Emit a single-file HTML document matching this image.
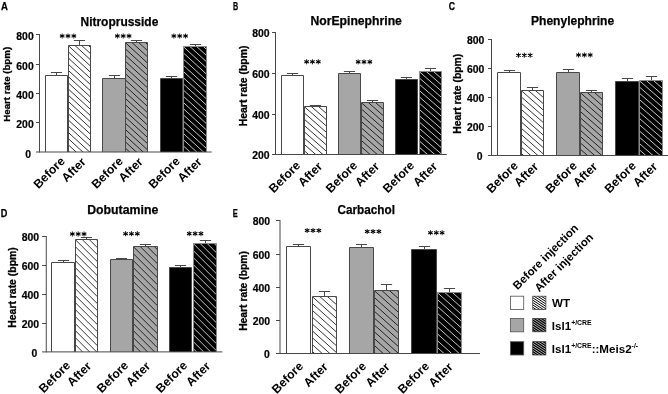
<!DOCTYPE html><html><head><meta charset="utf-8"><title>Figure</title><style>html,body{margin:0;padding:0;background:#fff;}svg{display:block;will-change:transform;}</style></head><body><svg width="668" height="394" viewBox="0 0 668 394" font-family='"Liberation Sans", sans-serif' fill="#000">
<rect width="668" height="394" fill="#fff"/>
<line x1="39.5" y1="34.0" x2="39.5" y2="152.5" stroke="#484848" stroke-width="1"/>
<text x="31.0" y="157.8" font-size="10.3" font-weight="bold" text-anchor="end" textLength="5.8" lengthAdjust="spacingAndGlyphs" stroke="#000" stroke-width="0.2">0</text>
<line x1="36.0" y1="122.5" x2="39.5" y2="122.5" stroke="#484848" stroke-width="1"/>
<text x="33.7" y="127.8" font-size="10.3" font-weight="bold" text-anchor="end" textLength="17.4" lengthAdjust="spacingAndGlyphs" stroke="#000" stroke-width="0.2">200</text>
<line x1="36.0" y1="93.5" x2="39.5" y2="93.5" stroke="#484848" stroke-width="1"/>
<text x="33.7" y="98.8" font-size="10.3" font-weight="bold" text-anchor="end" textLength="17.4" lengthAdjust="spacingAndGlyphs" stroke="#000" stroke-width="0.2">400</text>
<line x1="36.0" y1="64.5" x2="39.5" y2="64.5" stroke="#484848" stroke-width="1"/>
<text x="33.7" y="69.8" font-size="10.3" font-weight="bold" text-anchor="end" textLength="17.4" lengthAdjust="spacingAndGlyphs" stroke="#000" stroke-width="0.2">600</text>
<line x1="36.0" y1="34.5" x2="39.5" y2="34.5" stroke="#484848" stroke-width="1"/>
<text x="33.7" y="39.8" font-size="10.3" font-weight="bold" text-anchor="end" textLength="17.4" lengthAdjust="spacingAndGlyphs" stroke="#000" stroke-width="0.2">800</text>
<text transform="translate(10.0,84.3) rotate(-90)" font-size="9.91" font-weight="bold" stroke="#000" stroke-width="0.3" text-anchor="middle" textLength="74.8" lengthAdjust="spacingAndGlyphs">Heart rate (bpm)</text>
<text x="80.5" y="25.5" font-size="12.3" font-weight="bold" text-anchor="start" textLength="77.8" lengthAdjust="spacingAndGlyphs" stroke="#000" stroke-width="0.25">Nitroprusside</text>
<text x="1.0" y="9.6" font-size="10" font-weight="bold" text-anchor="start" textLength="6.9" lengthAdjust="spacingAndGlyphs" stroke="#000" stroke-width="0.25">A</text>
<path d="M56.5 75.5 V72.5 M50.9 72.5 H62.1" stroke="#484848" stroke-width="1" fill="none"/>
<rect x="45.5" y="75.5" width="22.0" height="76.5" fill="#ffffff"/>
<path d="M45.5 152.0V75.5H67.5V152.0" fill="none" stroke="#484848" stroke-width="1"/>
<text transform="translate(65.7,161.9) rotate(-45)" font-size="12.2" font-weight="bold" text-anchor="end">Before</text>
<path d="M79.5 45.5 V40.5 M73.9 40.5 H85.1" stroke="#484848" stroke-width="1" fill="none"/>
<clipPath id="cA1"><rect x="68.5" y="45.5" width="22.0" height="106.5"/></clipPath>
<rect x="68.5" y="45.5" width="22.0" height="106.5" fill="#ffffff"/>
<path d="M68.5 21.0l22.0 20.24M68.5 27.2l22.0 20.24M68.5 33.4l22.0 20.24M68.5 39.6l22.0 20.24M68.5 45.8l22.0 20.24M68.5 52.0l22.0 20.24M68.5 58.2l22.0 20.24M68.5 64.4l22.0 20.24M68.5 70.6l22.0 20.24M68.5 76.8l22.0 20.24M68.5 83.0l22.0 20.24M68.5 89.2l22.0 20.24M68.5 95.4l22.0 20.24M68.5 101.6l22.0 20.24M68.5 107.8l22.0 20.24M68.5 114.0l22.0 20.24M68.5 120.2l22.0 20.24M68.5 126.4l22.0 20.24M68.5 132.6l22.0 20.24M68.5 138.8l22.0 20.24M68.5 145.0l22.0 20.24M68.5 151.2l22.0 20.24" stroke="#000000" stroke-width="0.8" fill="none" clip-path="url(#cA1)"/>
<path d="M68.5 152.0V45.5H90.5V152.0" fill="none" stroke="#484848" stroke-width="1"/>
<text transform="translate(86.7,162.7) rotate(-45)" font-size="12.2" font-weight="bold" text-anchor="end">After</text>
<path d="M114.5 78.5 V75.5 M108.9 75.5 H120.1" stroke="#484848" stroke-width="1" fill="none"/>
<rect x="102.5" y="78.5" width="23.0" height="73.5" fill="#a6a6a6"/>
<path d="M102.5 152.0V78.5H125.5V152.0" fill="none" stroke="#484848" stroke-width="1"/>
<text transform="translate(123.7,161.9) rotate(-45)" font-size="12.2" font-weight="bold" text-anchor="end">Before</text>
<path d="M136.5 42.5 V40.5 M130.9 40.5 H142.1" stroke="#484848" stroke-width="1" fill="none"/>
<clipPath id="cA3"><rect x="125.5" y="42.5" width="22.0" height="109.5"/></clipPath>
<rect x="125.5" y="42.5" width="22.0" height="109.5" fill="#a6a6a6"/>
<path d="M125.5 18.0l22.0 20.24M125.5 24.2l22.0 20.24M125.5 30.4l22.0 20.24M125.5 36.6l22.0 20.24M125.5 42.8l22.0 20.24M125.5 49.0l22.0 20.24M125.5 55.2l22.0 20.24M125.5 61.4l22.0 20.24M125.5 67.6l22.0 20.24M125.5 73.8l22.0 20.24M125.5 80.0l22.0 20.24M125.5 86.2l22.0 20.24M125.5 92.4l22.0 20.24M125.5 98.6l22.0 20.24M125.5 104.8l22.0 20.24M125.5 111.0l22.0 20.24M125.5 117.2l22.0 20.24M125.5 123.4l22.0 20.24M125.5 129.6l22.0 20.24M125.5 135.8l22.0 20.24M125.5 142.0l22.0 20.24M125.5 148.2l22.0 20.24" stroke="#000000" stroke-width="0.8" fill="none" clip-path="url(#cA3)"/>
<path d="M125.5 152.0V42.5H147.5V152.0" fill="none" stroke="#484848" stroke-width="1"/>
<text transform="translate(143.7,162.7) rotate(-45)" font-size="12.2" font-weight="bold" text-anchor="end">After</text>
<path d="M171.5 78.5 V76.5 M165.9 76.5 H177.1" stroke="#484848" stroke-width="1" fill="none"/>
<rect x="160.5" y="78.5" width="22.0" height="73.5" fill="#000000"/>
<path d="M160.5 152.0V78.5H182.5V152.0" fill="none" stroke="#484848" stroke-width="1"/>
<text transform="translate(180.7,161.9) rotate(-45)" font-size="12.2" font-weight="bold" text-anchor="end">Before</text>
<path d="M195.5 46.5 V44.5 M189.9 44.5 H201.1" stroke="#484848" stroke-width="1" fill="none"/>
<clipPath id="cA5"><rect x="183.5" y="46.5" width="23.0" height="105.5"/></clipPath>
<rect x="183.5" y="46.5" width="23.0" height="105.5" fill="#000000"/>
<path d="M183.5 22.0l23.0 21.16M183.5 28.2l23.0 21.16M183.5 34.4l23.0 21.16M183.5 40.6l23.0 21.16M183.5 46.8l23.0 21.16M183.5 53.0l23.0 21.16M183.5 59.2l23.0 21.16M183.5 65.4l23.0 21.16M183.5 71.6l23.0 21.16M183.5 77.8l23.0 21.16M183.5 84.0l23.0 21.16M183.5 90.2l23.0 21.16M183.5 96.4l23.0 21.16M183.5 102.6l23.0 21.16M183.5 108.8l23.0 21.16M183.5 115.0l23.0 21.16M183.5 121.2l23.0 21.16M183.5 127.4l23.0 21.16M183.5 133.6l23.0 21.16M183.5 139.8l23.0 21.16M183.5 146.0l23.0 21.16" stroke="#ffffff" stroke-width="0.78" fill="none" clip-path="url(#cA5)"/>
<path d="M183.5 152.0V46.5H206.5V152.0" fill="none" stroke="#8a8a8a" stroke-width="1"/>
<text transform="translate(202.7,162.7) rotate(-45)" font-size="12.2" font-weight="bold" text-anchor="end">After</text>
<g transform="translate(62.15,36)"><path d="M0,-2.5V2.5" stroke="#000" stroke-width="0.9" fill="none"/><path d="M-2.25,-1.3L2.25,1.3M-2.25,1.3L2.25,-1.3" stroke="#000" stroke-width="1.1" fill="none"/><circle r="0.8"/></g>
<g transform="translate(68.0,36)"><path d="M0,-2.5V2.5" stroke="#000" stroke-width="0.9" fill="none"/><path d="M-2.25,-1.3L2.25,1.3M-2.25,1.3L2.25,-1.3" stroke="#000" stroke-width="1.1" fill="none"/><circle r="0.8"/></g>
<g transform="translate(73.85,36)"><path d="M0,-2.5V2.5" stroke="#000" stroke-width="0.9" fill="none"/><path d="M-2.25,-1.3L2.25,1.3M-2.25,1.3L2.25,-1.3" stroke="#000" stroke-width="1.1" fill="none"/><circle r="0.8"/></g>
<g transform="translate(117.35,36)"><path d="M0,-2.5V2.5" stroke="#000" stroke-width="0.9" fill="none"/><path d="M-2.25,-1.3L2.25,1.3M-2.25,1.3L2.25,-1.3" stroke="#000" stroke-width="1.1" fill="none"/><circle r="0.8"/></g>
<g transform="translate(123.2,36)"><path d="M0,-2.5V2.5" stroke="#000" stroke-width="0.9" fill="none"/><path d="M-2.25,-1.3L2.25,1.3M-2.25,1.3L2.25,-1.3" stroke="#000" stroke-width="1.1" fill="none"/><circle r="0.8"/></g>
<g transform="translate(129.05,36)"><path d="M0,-2.5V2.5" stroke="#000" stroke-width="0.9" fill="none"/><path d="M-2.25,-1.3L2.25,1.3M-2.25,1.3L2.25,-1.3" stroke="#000" stroke-width="1.1" fill="none"/><circle r="0.8"/></g>
<g transform="translate(173.85,36)"><path d="M0,-2.5V2.5" stroke="#000" stroke-width="0.9" fill="none"/><path d="M-2.25,-1.3L2.25,1.3M-2.25,1.3L2.25,-1.3" stroke="#000" stroke-width="1.1" fill="none"/><circle r="0.8"/></g>
<g transform="translate(179.7,36)"><path d="M0,-2.5V2.5" stroke="#000" stroke-width="0.9" fill="none"/><path d="M-2.25,-1.3L2.25,1.3M-2.25,1.3L2.25,-1.3" stroke="#000" stroke-width="1.1" fill="none"/><circle r="0.8"/></g>
<g transform="translate(185.55,36)"><path d="M0,-2.5V2.5" stroke="#000" stroke-width="0.9" fill="none"/><path d="M-2.25,-1.3L2.25,1.3M-2.25,1.3L2.25,-1.3" stroke="#000" stroke-width="1.1" fill="none"/><circle r="0.8"/></g>
<line x1="36.0" y1="152.0" x2="211.7" y2="152.0" stroke="#484848" stroke-width="1"/>
<line x1="275.5" y1="32.0" x2="275.5" y2="155.0" stroke="#484848" stroke-width="1"/>
<text x="269.6" y="159.2" font-size="10.3" font-weight="bold" text-anchor="end" textLength="17.4" lengthAdjust="spacingAndGlyphs" stroke="#000" stroke-width="0.2">200</text>
<line x1="272.0" y1="114.5" x2="275.5" y2="114.5" stroke="#484848" stroke-width="1"/>
<text x="269.6" y="119.2" font-size="10.3" font-weight="bold" text-anchor="end" textLength="17.4" lengthAdjust="spacingAndGlyphs" stroke="#000" stroke-width="0.2">400</text>
<line x1="272.0" y1="73.5" x2="275.5" y2="73.5" stroke="#484848" stroke-width="1"/>
<text x="269.6" y="78.2" font-size="10.3" font-weight="bold" text-anchor="end" textLength="17.4" lengthAdjust="spacingAndGlyphs" stroke="#000" stroke-width="0.2">600</text>
<line x1="272.0" y1="32.5" x2="275.5" y2="32.5" stroke="#484848" stroke-width="1"/>
<text x="269.6" y="37.2" font-size="10.3" font-weight="bold" text-anchor="end" textLength="17.4" lengthAdjust="spacingAndGlyphs" stroke="#000" stroke-width="0.2">800</text>
<text transform="translate(247.0,85.9) rotate(-90)" font-size="10.72" font-weight="bold" stroke="#000" stroke-width="0.3" text-anchor="middle" textLength="80.9" lengthAdjust="spacingAndGlyphs">Heart rate (bpm)</text>
<text x="310.4" y="25.4" font-size="12.3" font-weight="bold" text-anchor="start" textLength="91.5" lengthAdjust="spacingAndGlyphs" stroke="#000" stroke-width="0.25">NorEpinephrine</text>
<text x="232.9" y="9.5" font-size="10" font-weight="bold" text-anchor="start" textLength="5.2" lengthAdjust="spacingAndGlyphs" stroke="#000" stroke-width="0.25">B</text>
<path d="M292.5 75.5 V73.5 M286.9 73.5 H298.1" stroke="#484848" stroke-width="1" fill="none"/>
<rect x="281.5" y="75.5" width="22.0" height="79.0" fill="#ffffff"/>
<path d="M281.5 154.5V75.5H303.5V154.5" fill="none" stroke="#484848" stroke-width="1"/>
<text transform="translate(301.1,166.1) rotate(-45)" font-size="12.2" font-weight="bold" text-anchor="end">Before</text>
<path d="M315.5 106.5 V105.5 M309.9 105.5 H321.1" stroke="#484848" stroke-width="1" fill="none"/>
<clipPath id="cB1"><rect x="304.5" y="106.5" width="22.0" height="48.0"/></clipPath>
<rect x="304.5" y="106.5" width="22.0" height="48.0" fill="#ffffff"/>
<path d="M304.5 81.6l22.0 19.36M304.5 87.9l22.0 19.36M304.5 94.2l22.0 19.36M304.5 100.5l22.0 19.36M304.5 106.8l22.0 19.36M304.5 113.1l22.0 19.36M304.5 119.4l22.0 19.36M304.5 125.7l22.0 19.36M304.5 132.0l22.0 19.36M304.5 138.3l22.0 19.36M304.5 144.6l22.0 19.36M304.5 150.9l22.0 19.36" stroke="#000000" stroke-width="0.8" fill="none" clip-path="url(#cB1)"/>
<path d="M304.5 154.5V106.5H326.5V154.5" fill="none" stroke="#484848" stroke-width="1"/>
<text transform="translate(323.1,167.1) rotate(-45)" font-size="12.2" font-weight="bold" text-anchor="end">After</text>
<path d="M349.5 73.5 V71.5 M343.9 71.5 H355.1" stroke="#484848" stroke-width="1" fill="none"/>
<rect x="338.5" y="73.5" width="22.0" height="81.0" fill="#a6a6a6"/>
<path d="M338.5 154.5V73.5H360.5V154.5" fill="none" stroke="#484848" stroke-width="1"/>
<text transform="translate(358.1,166.1) rotate(-45)" font-size="12.2" font-weight="bold" text-anchor="end">Before</text>
<path d="M372.5 102.5 V100.5 M366.9 100.5 H378.1" stroke="#484848" stroke-width="1" fill="none"/>
<clipPath id="cB3"><rect x="361.5" y="102.5" width="22.0" height="52.0"/></clipPath>
<rect x="361.5" y="102.5" width="22.0" height="52.0" fill="#a6a6a6"/>
<path d="M361.5 77.6l22.0 19.36M361.5 83.9l22.0 19.36M361.5 90.2l22.0 19.36M361.5 96.5l22.0 19.36M361.5 102.8l22.0 19.36M361.5 109.1l22.0 19.36M361.5 115.4l22.0 19.36M361.5 121.7l22.0 19.36M361.5 128.0l22.0 19.36M361.5 134.3l22.0 19.36M361.5 140.6l22.0 19.36M361.5 146.9l22.0 19.36M361.5 153.2l22.0 19.36" stroke="#000000" stroke-width="0.8" fill="none" clip-path="url(#cB3)"/>
<path d="M361.5 154.5V102.5H383.5V154.5" fill="none" stroke="#484848" stroke-width="1"/>
<text transform="translate(380.1,167.1) rotate(-45)" font-size="12.2" font-weight="bold" text-anchor="end">After</text>
<path d="M406.5 79.5 V77.5 M400.9 77.5 H412.1" stroke="#484848" stroke-width="1" fill="none"/>
<rect x="395.5" y="79.5" width="22.0" height="75.0" fill="#000000"/>
<path d="M395.5 154.5V79.5H417.5V154.5" fill="none" stroke="#484848" stroke-width="1"/>
<text transform="translate(415.1,166.1) rotate(-45)" font-size="12.2" font-weight="bold" text-anchor="end">Before</text>
<path d="M430.5 71.5 V68.5 M424.9 68.5 H436.1" stroke="#484848" stroke-width="1" fill="none"/>
<clipPath id="cB5"><rect x="419.5" y="71.5" width="22.0" height="83.0"/></clipPath>
<rect x="419.5" y="71.5" width="22.0" height="83.0" fill="#000000"/>
<path d="M419.5 46.6l22.0 19.36M419.5 52.9l22.0 19.36M419.5 59.2l22.0 19.36M419.5 65.5l22.0 19.36M419.5 71.8l22.0 19.36M419.5 78.1l22.0 19.36M419.5 84.4l22.0 19.36M419.5 90.7l22.0 19.36M419.5 97.0l22.0 19.36M419.5 103.3l22.0 19.36M419.5 109.6l22.0 19.36M419.5 115.9l22.0 19.36M419.5 122.2l22.0 19.36M419.5 128.5l22.0 19.36M419.5 134.8l22.0 19.36M419.5 141.1l22.0 19.36M419.5 147.4l22.0 19.36M419.5 153.7l22.0 19.36" stroke="#ffffff" stroke-width="0.78" fill="none" clip-path="url(#cB5)"/>
<path d="M419.5 154.5V71.5H441.5V154.5" fill="none" stroke="#8a8a8a" stroke-width="1"/>
<text transform="translate(438.1,167.1) rotate(-45)" font-size="12.2" font-weight="bold" text-anchor="end">After</text>
<g transform="translate(306.6,61.8)"><path d="M0,-2.5V2.5" stroke="#000" stroke-width="0.9" fill="none"/><path d="M-2.25,-1.3L2.25,1.3M-2.25,1.3L2.25,-1.3" stroke="#000" stroke-width="1.1" fill="none"/><circle r="0.8"/></g>
<g transform="translate(312.45,61.8)"><path d="M0,-2.5V2.5" stroke="#000" stroke-width="0.9" fill="none"/><path d="M-2.25,-1.3L2.25,1.3M-2.25,1.3L2.25,-1.3" stroke="#000" stroke-width="1.1" fill="none"/><circle r="0.8"/></g>
<g transform="translate(318.3,61.8)"><path d="M0,-2.5V2.5" stroke="#000" stroke-width="0.9" fill="none"/><path d="M-2.25,-1.3L2.25,1.3M-2.25,1.3L2.25,-1.3" stroke="#000" stroke-width="1.1" fill="none"/><circle r="0.8"/></g>
<g transform="translate(358.15,61.9)"><path d="M0,-2.5V2.5" stroke="#000" stroke-width="0.9" fill="none"/><path d="M-2.25,-1.3L2.25,1.3M-2.25,1.3L2.25,-1.3" stroke="#000" stroke-width="1.1" fill="none"/><circle r="0.8"/></g>
<g transform="translate(364.0,61.9)"><path d="M0,-2.5V2.5" stroke="#000" stroke-width="0.9" fill="none"/><path d="M-2.25,-1.3L2.25,1.3M-2.25,1.3L2.25,-1.3" stroke="#000" stroke-width="1.1" fill="none"/><circle r="0.8"/></g>
<g transform="translate(369.85,61.9)"><path d="M0,-2.5V2.5" stroke="#000" stroke-width="0.9" fill="none"/><path d="M-2.25,-1.3L2.25,1.3M-2.25,1.3L2.25,-1.3" stroke="#000" stroke-width="1.1" fill="none"/><circle r="0.8"/></g>
<line x1="272.0" y1="154.5" x2="446.8" y2="154.5" stroke="#484848" stroke-width="1"/>
<line x1="491.5" y1="39.0" x2="491.5" y2="156.0" stroke="#484848" stroke-width="1"/>
<text x="482.5" y="160.3" font-size="10.3" font-weight="bold" text-anchor="end" textLength="5.8" lengthAdjust="spacingAndGlyphs" stroke="#000" stroke-width="0.2">0</text>
<line x1="488.0" y1="126.5" x2="491.5" y2="126.5" stroke="#484848" stroke-width="1"/>
<text x="484.4" y="131.3" font-size="10.3" font-weight="bold" text-anchor="end" textLength="17.4" lengthAdjust="spacingAndGlyphs" stroke="#000" stroke-width="0.2">200</text>
<line x1="488.0" y1="97.5" x2="491.5" y2="97.5" stroke="#484848" stroke-width="1"/>
<text x="484.4" y="102.3" font-size="10.3" font-weight="bold" text-anchor="end" textLength="17.4" lengthAdjust="spacingAndGlyphs" stroke="#000" stroke-width="0.2">400</text>
<line x1="488.0" y1="68.5" x2="491.5" y2="68.5" stroke="#484848" stroke-width="1"/>
<text x="484.4" y="73.3" font-size="10.3" font-weight="bold" text-anchor="end" textLength="17.4" lengthAdjust="spacingAndGlyphs" stroke="#000" stroke-width="0.2">600</text>
<line x1="488.0" y1="39.5" x2="491.5" y2="39.5" stroke="#484848" stroke-width="1"/>
<text x="484.4" y="44.3" font-size="10.3" font-weight="bold" text-anchor="end" textLength="17.4" lengthAdjust="spacingAndGlyphs" stroke="#000" stroke-width="0.2">800</text>
<text transform="translate(461.3,93.8) rotate(-90)" font-size="10.6" font-weight="bold" stroke="#000" stroke-width="0.3" text-anchor="middle" textLength="80" lengthAdjust="spacingAndGlyphs">Heart rate (bpm)</text>
<text x="531" y="25.4" font-size="12.3" font-weight="bold" text-anchor="start" textLength="83.1" lengthAdjust="spacingAndGlyphs" stroke="#000" stroke-width="0.25">Phenylephrine</text>
<text x="448.8" y="9.6" font-size="10" font-weight="bold" text-anchor="start" textLength="6.3" lengthAdjust="spacingAndGlyphs" stroke="#000" stroke-width="0.25">C</text>
<path d="M509.5 72.5 V70.5 M503.9 70.5 H515.1" stroke="#484848" stroke-width="1" fill="none"/>
<rect x="497.5" y="72.5" width="23.0" height="83.0" fill="#ffffff"/>
<path d="M497.5 155.5V72.5H520.5V155.5" fill="none" stroke="#484848" stroke-width="1"/>
<text transform="translate(518.7,166.5) rotate(-45)" font-size="12.2" font-weight="bold" text-anchor="end">Before</text>
<path d="M532.5 90.5 V87.5 M526.9 87.5 H538.1" stroke="#484848" stroke-width="1" fill="none"/>
<clipPath id="cC1"><rect x="521.5" y="90.5" width="22.0" height="65.0"/></clipPath>
<rect x="521.5" y="90.5" width="22.0" height="65.0" fill="#ffffff"/>
<path d="M521.5 65.68l22.0 19.36M521.5 71.96l22.0 19.36M521.5 78.24l22.0 19.36M521.5 84.52l22.0 19.36M521.5 90.8l22.0 19.36M521.5 97.08l22.0 19.36M521.5 103.36l22.0 19.36M521.5 109.64l22.0 19.36M521.5 115.92l22.0 19.36M521.5 122.2l22.0 19.36M521.5 128.48l22.0 19.36M521.5 134.76l22.0 19.36M521.5 141.04l22.0 19.36M521.5 147.32l22.0 19.36M521.5 153.6l22.0 19.36" stroke="#000000" stroke-width="0.8" fill="none" clip-path="url(#cC1)"/>
<path d="M521.5 155.5V90.5H543.5V155.5" fill="none" stroke="#484848" stroke-width="1"/>
<text transform="translate(539.1,167.3) rotate(-45)" font-size="12.2" font-weight="bold" text-anchor="end">After</text>
<path d="M568.5 72.5 V69.5 M562.9 69.5 H574.1" stroke="#484848" stroke-width="1" fill="none"/>
<rect x="556.5" y="72.5" width="23.0" height="83.0" fill="#a6a6a6"/>
<path d="M556.5 155.5V72.5H579.5V155.5" fill="none" stroke="#484848" stroke-width="1"/>
<text transform="translate(577.7,166.5) rotate(-45)" font-size="12.2" font-weight="bold" text-anchor="end">Before</text>
<path d="M591.5 92.5 V90.5 M585.9 90.5 H597.1" stroke="#484848" stroke-width="1" fill="none"/>
<clipPath id="cC3"><rect x="580.5" y="92.5" width="22.0" height="63.0"/></clipPath>
<rect x="580.5" y="92.5" width="22.0" height="63.0" fill="#a6a6a6"/>
<path d="M580.5 67.68l22.0 19.36M580.5 73.96l22.0 19.36M580.5 80.24l22.0 19.36M580.5 86.52l22.0 19.36M580.5 92.8l22.0 19.36M580.5 99.08l22.0 19.36M580.5 105.36l22.0 19.36M580.5 111.64l22.0 19.36M580.5 117.92l22.0 19.36M580.5 124.2l22.0 19.36M580.5 130.48l22.0 19.36M580.5 136.76l22.0 19.36M580.5 143.04l22.0 19.36M580.5 149.32l22.0 19.36" stroke="#000000" stroke-width="0.8" fill="none" clip-path="url(#cC3)"/>
<path d="M580.5 155.5V92.5H602.5V155.5" fill="none" stroke="#484848" stroke-width="1"/>
<text transform="translate(598.1,167.3) rotate(-45)" font-size="12.2" font-weight="bold" text-anchor="end">After</text>
<path d="M627.5 81.5 V78.5 M621.9 78.5 H633.1" stroke="#484848" stroke-width="1" fill="none"/>
<rect x="615.5" y="81.5" width="23.0" height="74.0" fill="#000000"/>
<path d="M615.5 155.5V81.5H638.5V155.5" fill="none" stroke="#484848" stroke-width="1"/>
<text transform="translate(636.7,166.5) rotate(-45)" font-size="12.2" font-weight="bold" text-anchor="end">Before</text>
<path d="M651.5 80.5 V76.5 M645.9 76.5 H657.1" stroke="#484848" stroke-width="1" fill="none"/>
<clipPath id="cC5"><rect x="639.5" y="80.5" width="23.0" height="75.0"/></clipPath>
<rect x="639.5" y="80.5" width="23.0" height="75.0" fill="#000000"/>
<path d="M639.5 55.68l23.0 20.24M639.5 61.96l23.0 20.24M639.5 68.24l23.0 20.24M639.5 74.52l23.0 20.24M639.5 80.8l23.0 20.24M639.5 87.08l23.0 20.24M639.5 93.36l23.0 20.24M639.5 99.64l23.0 20.24M639.5 105.92l23.0 20.24M639.5 112.2l23.0 20.24M639.5 118.48l23.0 20.24M639.5 124.76l23.0 20.24M639.5 131.04l23.0 20.24M639.5 137.32l23.0 20.24M639.5 143.6l23.0 20.24M639.5 149.88l23.0 20.24" stroke="#ffffff" stroke-width="0.78" fill="none" clip-path="url(#cC5)"/>
<path d="M639.5 155.5V80.5H662.5V155.5" fill="none" stroke="#8a8a8a" stroke-width="1"/>
<text transform="translate(658.1,167.3) rotate(-45)" font-size="12.2" font-weight="bold" text-anchor="end">After</text>
<g transform="translate(518.5,55.2)"><path d="M0,-2.5V2.5" stroke="#000" stroke-width="0.9" fill="none"/><path d="M-2.25,-1.3L2.25,1.3M-2.25,1.3L2.25,-1.3" stroke="#000" stroke-width="1.1" fill="none"/><circle r="0.8"/></g>
<g transform="translate(524.35,55.2)"><path d="M0,-2.5V2.5" stroke="#000" stroke-width="0.9" fill="none"/><path d="M-2.25,-1.3L2.25,1.3M-2.25,1.3L2.25,-1.3" stroke="#000" stroke-width="1.1" fill="none"/><circle r="0.8"/></g>
<g transform="translate(530.2,55.2)"><path d="M0,-2.5V2.5" stroke="#000" stroke-width="0.9" fill="none"/><path d="M-2.25,-1.3L2.25,1.3M-2.25,1.3L2.25,-1.3" stroke="#000" stroke-width="1.1" fill="none"/><circle r="0.8"/></g>
<g transform="translate(578.5,55)"><path d="M0,-2.5V2.5" stroke="#000" stroke-width="0.9" fill="none"/><path d="M-2.25,-1.3L2.25,1.3M-2.25,1.3L2.25,-1.3" stroke="#000" stroke-width="1.1" fill="none"/><circle r="0.8"/></g>
<g transform="translate(584.35,55)"><path d="M0,-2.5V2.5" stroke="#000" stroke-width="0.9" fill="none"/><path d="M-2.25,-1.3L2.25,1.3M-2.25,1.3L2.25,-1.3" stroke="#000" stroke-width="1.1" fill="none"/><circle r="0.8"/></g>
<g transform="translate(590.2,55)"><path d="M0,-2.5V2.5" stroke="#000" stroke-width="0.9" fill="none"/><path d="M-2.25,-1.3L2.25,1.3M-2.25,1.3L2.25,-1.3" stroke="#000" stroke-width="1.1" fill="none"/><circle r="0.8"/></g>
<line x1="488.0" y1="155.5" x2="668" y2="155.5" stroke="#484848" stroke-width="1"/>
<line x1="46.25" y1="236.0" x2="46.25" y2="352.4" stroke="#484848" stroke-width="1"/>
<text x="37.35" y="356.8" font-size="10.3" font-weight="bold" text-anchor="end" textLength="5.8" lengthAdjust="spacingAndGlyphs" stroke="#000" stroke-width="0.2">0</text>
<line x1="42.05" y1="323.5" x2="46.25" y2="323.5" stroke="#484848" stroke-width="1"/>
<text x="39.05" y="327.8" font-size="10.3" font-weight="bold" text-anchor="end" textLength="17.4" lengthAdjust="spacingAndGlyphs" stroke="#000" stroke-width="0.2">200</text>
<line x1="42.05" y1="294.5" x2="46.25" y2="294.5" stroke="#484848" stroke-width="1"/>
<text x="39.05" y="298.8" font-size="10.3" font-weight="bold" text-anchor="end" textLength="17.4" lengthAdjust="spacingAndGlyphs" stroke="#000" stroke-width="0.2">400</text>
<line x1="42.05" y1="265.5" x2="46.25" y2="265.5" stroke="#484848" stroke-width="1"/>
<text x="39.05" y="269.8" font-size="10.3" font-weight="bold" text-anchor="end" textLength="17.4" lengthAdjust="spacingAndGlyphs" stroke="#000" stroke-width="0.2">600</text>
<line x1="42.05" y1="236.5" x2="46.25" y2="236.5" stroke="#484848" stroke-width="1"/>
<text x="39.05" y="240.8" font-size="10.3" font-weight="bold" text-anchor="end" textLength="17.4" lengthAdjust="spacingAndGlyphs" stroke="#000" stroke-width="0.2">800</text>
<text transform="translate(15.5,287.5) rotate(-90)" font-size="10.65" font-weight="bold" stroke="#000" stroke-width="0.3" text-anchor="middle" textLength="80.4" lengthAdjust="spacingAndGlyphs">Heart rate (bpm)</text>
<text x="87.2" y="214" font-size="12.3" font-weight="bold" text-anchor="start" textLength="71.1" lengthAdjust="spacingAndGlyphs" stroke="#000" stroke-width="0.25">Dobutamine</text>
<text x="0.7" y="216.9" font-size="10" font-weight="bold" text-anchor="start" textLength="6.6" lengthAdjust="spacingAndGlyphs" stroke="#000" stroke-width="0.25">D</text>
<path d="M63.5 262.5 V260.5 M57.9 260.5 H69.1" stroke="#484848" stroke-width="1" fill="none"/>
<rect x="51.5" y="262.5" width="23.0" height="89.4" fill="#ffffff"/>
<path d="M51.5 351.9V262.5H74.5V351.9" fill="none" stroke="#484848" stroke-width="1"/>
<text transform="translate(71.1,366.1) rotate(-45)" font-size="12.2" font-weight="bold" text-anchor="end">Before</text>
<path d="M86.5 239.5 V237.5 M80.9 237.5 H92.1" stroke="#484848" stroke-width="1" fill="none"/>
<clipPath id="cD1"><rect x="75.5" y="239.5" width="22.0" height="112.4"/></clipPath>
<rect x="75.5" y="239.5" width="22.0" height="112.4" fill="#ffffff"/>
<path d="M75.5 211.8l22.0 22.0M75.5 218.8l22.0 22.0M75.5 225.8l22.0 22.0M75.5 232.8l22.0 22.0M75.5 239.8l22.0 22.0M75.5 246.8l22.0 22.0M75.5 253.8l22.0 22.0M75.5 260.8l22.0 22.0M75.5 267.8l22.0 22.0M75.5 274.8l22.0 22.0M75.5 281.8l22.0 22.0M75.5 288.8l22.0 22.0M75.5 295.8l22.0 22.0M75.5 302.8l22.0 22.0M75.5 309.8l22.0 22.0M75.5 316.8l22.0 22.0M75.5 323.8l22.0 22.0M75.5 330.8l22.0 22.0M75.5 337.8l22.0 22.0M75.5 344.8l22.0 22.0M75.5 351.8l22.0 22.0" stroke="#000000" stroke-width="0.8" fill="none" clip-path="url(#cD1)"/>
<path d="M75.5 351.9V239.5H97.5V351.9" fill="none" stroke="#484848" stroke-width="1"/>
<text transform="translate(92.1,366.9) rotate(-45)" font-size="12.2" font-weight="bold" text-anchor="end">After</text>
<path d="M121.5 259.5 V258.5 M115.9 258.5 H127.1" stroke="#484848" stroke-width="1" fill="none"/>
<rect x="110.5" y="259.5" width="22.0" height="92.4" fill="#a6a6a6"/>
<path d="M110.5 351.9V259.5H132.5V351.9" fill="none" stroke="#484848" stroke-width="1"/>
<text transform="translate(129.1,366.1) rotate(-45)" font-size="12.2" font-weight="bold" text-anchor="end">Before</text>
<path d="M145.5 246.5 V244.5 M139.9 244.5 H151.1" stroke="#484848" stroke-width="1" fill="none"/>
<clipPath id="cD3"><rect x="133.5" y="246.5" width="24.0" height="105.4"/></clipPath>
<rect x="133.5" y="246.5" width="24.0" height="105.4" fill="#a6a6a6"/>
<path d="M133.5 218.8l24.0 24.0M133.5 225.8l24.0 24.0M133.5 232.8l24.0 24.0M133.5 239.8l24.0 24.0M133.5 246.8l24.0 24.0M133.5 253.8l24.0 24.0M133.5 260.8l24.0 24.0M133.5 267.8l24.0 24.0M133.5 274.8l24.0 24.0M133.5 281.8l24.0 24.0M133.5 288.8l24.0 24.0M133.5 295.8l24.0 24.0M133.5 302.8l24.0 24.0M133.5 309.8l24.0 24.0M133.5 316.8l24.0 24.0M133.5 323.8l24.0 24.0M133.5 330.8l24.0 24.0M133.5 337.8l24.0 24.0M133.5 344.8l24.0 24.0M133.5 351.8l24.0 24.0" stroke="#000000" stroke-width="0.8" fill="none" clip-path="url(#cD3)"/>
<path d="M133.5 351.9V246.5H157.5V351.9" fill="none" stroke="#484848" stroke-width="1"/>
<text transform="translate(151.1,366.9) rotate(-45)" font-size="12.2" font-weight="bold" text-anchor="end">After</text>
<path d="M180.5 267.5 V265.5 M174.9 265.5 H186.1" stroke="#484848" stroke-width="1" fill="none"/>
<rect x="169.5" y="267.5" width="22.0" height="84.4" fill="#000000"/>
<path d="M169.5 351.9V267.5H191.5V351.9" fill="none" stroke="#484848" stroke-width="1"/>
<text transform="translate(188.1,366.1) rotate(-45)" font-size="12.2" font-weight="bold" text-anchor="end">Before</text>
<path d="M205.5 243.5 V240.5 M199.9 240.5 H211.1" stroke="#484848" stroke-width="1" fill="none"/>
<clipPath id="cD5"><rect x="193.5" y="243.5" width="23.0" height="108.4"/></clipPath>
<rect x="193.5" y="243.5" width="23.0" height="108.4" fill="#000000"/>
<path d="M193.5 215.8l23.0 23.0M193.5 222.8l23.0 23.0M193.5 229.8l23.0 23.0M193.5 236.8l23.0 23.0M193.5 243.8l23.0 23.0M193.5 250.8l23.0 23.0M193.5 257.8l23.0 23.0M193.5 264.8l23.0 23.0M193.5 271.8l23.0 23.0M193.5 278.8l23.0 23.0M193.5 285.8l23.0 23.0M193.5 292.8l23.0 23.0M193.5 299.8l23.0 23.0M193.5 306.8l23.0 23.0M193.5 313.8l23.0 23.0M193.5 320.8l23.0 23.0M193.5 327.8l23.0 23.0M193.5 334.8l23.0 23.0M193.5 341.8l23.0 23.0M193.5 348.8l23.0 23.0" stroke="#ffffff" stroke-width="0.78" fill="none" clip-path="url(#cD5)"/>
<path d="M193.5 351.9V243.5H216.5V351.9" fill="none" stroke="#8a8a8a" stroke-width="1"/>
<text transform="translate(211.1,366.9) rotate(-45)" font-size="12.2" font-weight="bold" text-anchor="end">After</text>
<g transform="translate(72.35,234)"><path d="M0,-2.5V2.5" stroke="#000" stroke-width="0.9" fill="none"/><path d="M-2.25,-1.3L2.25,1.3M-2.25,1.3L2.25,-1.3" stroke="#000" stroke-width="1.1" fill="none"/><circle r="0.8"/></g>
<g transform="translate(78.2,234)"><path d="M0,-2.5V2.5" stroke="#000" stroke-width="0.9" fill="none"/><path d="M-2.25,-1.3L2.25,1.3M-2.25,1.3L2.25,-1.3" stroke="#000" stroke-width="1.1" fill="none"/><circle r="0.8"/></g>
<g transform="translate(84.05,234)"><path d="M0,-2.5V2.5" stroke="#000" stroke-width="0.9" fill="none"/><path d="M-2.25,-1.3L2.25,1.3M-2.25,1.3L2.25,-1.3" stroke="#000" stroke-width="1.1" fill="none"/><circle r="0.8"/></g>
<g transform="translate(125.6,233.7)"><path d="M0,-2.5V2.5" stroke="#000" stroke-width="0.9" fill="none"/><path d="M-2.25,-1.3L2.25,1.3M-2.25,1.3L2.25,-1.3" stroke="#000" stroke-width="1.1" fill="none"/><circle r="0.8"/></g>
<g transform="translate(131.45,233.7)"><path d="M0,-2.5V2.5" stroke="#000" stroke-width="0.9" fill="none"/><path d="M-2.25,-1.3L2.25,1.3M-2.25,1.3L2.25,-1.3" stroke="#000" stroke-width="1.1" fill="none"/><circle r="0.8"/></g>
<g transform="translate(137.3,233.7)"><path d="M0,-2.5V2.5" stroke="#000" stroke-width="0.9" fill="none"/><path d="M-2.25,-1.3L2.25,1.3M-2.25,1.3L2.25,-1.3" stroke="#000" stroke-width="1.1" fill="none"/><circle r="0.8"/></g>
<g transform="translate(189.25,233.6)"><path d="M0,-2.5V2.5" stroke="#000" stroke-width="0.9" fill="none"/><path d="M-2.25,-1.3L2.25,1.3M-2.25,1.3L2.25,-1.3" stroke="#000" stroke-width="1.1" fill="none"/><circle r="0.8"/></g>
<g transform="translate(195.1,233.6)"><path d="M0,-2.5V2.5" stroke="#000" stroke-width="0.9" fill="none"/><path d="M-2.25,-1.3L2.25,1.3M-2.25,1.3L2.25,-1.3" stroke="#000" stroke-width="1.1" fill="none"/><circle r="0.8"/></g>
<g transform="translate(200.95,233.6)"><path d="M0,-2.5V2.5" stroke="#000" stroke-width="0.9" fill="none"/><path d="M-2.25,-1.3L2.25,1.3M-2.25,1.3L2.25,-1.3" stroke="#000" stroke-width="1.1" fill="none"/><circle r="0.8"/></g>
<line x1="42.05" y1="351.9" x2="222.4" y2="351.9" stroke="#484848" stroke-width="1"/>
<line x1="280.0" y1="220.0" x2="280.0" y2="354.0" stroke="#484848" stroke-width="1"/>
<text x="269.8" y="358.3" font-size="10.3" font-weight="bold" text-anchor="end" textLength="5.8" lengthAdjust="spacingAndGlyphs" stroke="#000" stroke-width="0.2">0</text>
<line x1="276.0" y1="320.5" x2="280.0" y2="320.5" stroke="#484848" stroke-width="1"/>
<text x="270.1" y="325.3" font-size="10.3" font-weight="bold" text-anchor="end" textLength="17.4" lengthAdjust="spacingAndGlyphs" stroke="#000" stroke-width="0.2">200</text>
<line x1="276.0" y1="287.5" x2="280.0" y2="287.5" stroke="#484848" stroke-width="1"/>
<text x="270.1" y="292.3" font-size="10.3" font-weight="bold" text-anchor="end" textLength="17.4" lengthAdjust="spacingAndGlyphs" stroke="#000" stroke-width="0.2">400</text>
<line x1="276.0" y1="254.5" x2="280.0" y2="254.5" stroke="#484848" stroke-width="1"/>
<text x="270.1" y="259.3" font-size="10.3" font-weight="bold" text-anchor="end" textLength="17.4" lengthAdjust="spacingAndGlyphs" stroke="#000" stroke-width="0.2">600</text>
<line x1="276.0" y1="220.5" x2="280.0" y2="220.5" stroke="#484848" stroke-width="1"/>
<text x="270.1" y="225.3" font-size="10.3" font-weight="bold" text-anchor="end" textLength="17.4" lengthAdjust="spacingAndGlyphs" stroke="#000" stroke-width="0.2">800</text>
<text transform="translate(247.1,291) rotate(-90)" font-size="10.56" font-weight="bold" stroke="#000" stroke-width="0.3" text-anchor="middle" textLength="79.7" lengthAdjust="spacingAndGlyphs">Heart rate (bpm)</text>
<text x="337.5" y="214" font-size="12.3" font-weight="bold" text-anchor="start" textLength="57.4" lengthAdjust="spacingAndGlyphs" stroke="#000" stroke-width="0.25">Carbachol</text>
<text x="232.7" y="217.3" font-size="10" font-weight="bold" text-anchor="start" textLength="5.0" lengthAdjust="spacingAndGlyphs" stroke="#000" stroke-width="0.25">E</text>
<path d="M298.5 246.5 V244.5 M292.9 244.5 H304.1" stroke="#484848" stroke-width="1" fill="none"/>
<rect x="286.5" y="246.5" width="24.0" height="107.0" fill="#ffffff"/>
<path d="M286.5 353.5V246.5H310.5V353.5" fill="none" stroke="#484848" stroke-width="1"/>
<text transform="translate(304.0,366.9) rotate(-45)" font-size="12.2" font-weight="bold" text-anchor="end">Before</text>
<path d="M324.5 296.5 V291.5 M318.9 291.5 H330.1" stroke="#484848" stroke-width="1" fill="none"/>
<clipPath id="cE1"><rect x="312.5" y="296.5" width="24.0" height="57.0"/></clipPath>
<rect x="312.5" y="296.5" width="24.0" height="57.0" fill="#ffffff"/>
<path d="M312.5 269.4l24.0 21.6M312.5 276.25l24.0 21.6M312.5 283.1l24.0 21.6M312.5 289.95l24.0 21.6M312.5 296.8l24.0 21.6M312.5 303.65l24.0 21.6M312.5 310.5l24.0 21.6M312.5 317.35l24.0 21.6M312.5 324.2l24.0 21.6M312.5 331.05l24.0 21.6M312.5 337.9l24.0 21.6M312.5 344.75l24.0 21.6M312.5 351.6l24.0 21.6" stroke="#000000" stroke-width="0.8" fill="none" clip-path="url(#cE1)"/>
<path d="M312.5 353.5V296.5H336.5V353.5" fill="none" stroke="#484848" stroke-width="1"/>
<text transform="translate(328.7,367.7) rotate(-45)" font-size="12.2" font-weight="bold" text-anchor="end">After</text>
<path d="M361.5 247.5 V244.5 M355.9 244.5 H367.1" stroke="#484848" stroke-width="1" fill="none"/>
<rect x="349.5" y="247.5" width="24.0" height="106.0" fill="#a6a6a6"/>
<path d="M349.5 353.5V247.5H373.5V353.5" fill="none" stroke="#484848" stroke-width="1"/>
<text transform="translate(367.0,366.9) rotate(-45)" font-size="12.2" font-weight="bold" text-anchor="end">Before</text>
<path d="M386.5 290.5 V284.5 M380.9 284.5 H392.1" stroke="#484848" stroke-width="1" fill="none"/>
<clipPath id="cE3"><rect x="374.5" y="290.5" width="24.0" height="63.0"/></clipPath>
<rect x="374.5" y="290.5" width="24.0" height="63.0" fill="#a6a6a6"/>
<path d="M374.5 263.4l24.0 21.6M374.5 270.25l24.0 21.6M374.5 277.1l24.0 21.6M374.5 283.95l24.0 21.6M374.5 290.8l24.0 21.6M374.5 297.65l24.0 21.6M374.5 304.5l24.0 21.6M374.5 311.35l24.0 21.6M374.5 318.2l24.0 21.6M374.5 325.05l24.0 21.6M374.5 331.9l24.0 21.6M374.5 338.75l24.0 21.6M374.5 345.6l24.0 21.6M374.5 352.45l24.0 21.6" stroke="#000000" stroke-width="0.8" fill="none" clip-path="url(#cE3)"/>
<path d="M374.5 353.5V290.5H398.5V353.5" fill="none" stroke="#484848" stroke-width="1"/>
<text transform="translate(390.7,367.7) rotate(-45)" font-size="12.2" font-weight="bold" text-anchor="end">After</text>
<path d="M424.5 249.5 V246.5 M418.9 246.5 H430.1" stroke="#484848" stroke-width="1" fill="none"/>
<rect x="411.5" y="249.5" width="25.0" height="104.0" fill="#000000"/>
<path d="M411.5 353.5V249.5H436.5V353.5" fill="none" stroke="#484848" stroke-width="1"/>
<text transform="translate(430.0,366.9) rotate(-45)" font-size="12.2" font-weight="bold" text-anchor="end">Before</text>
<path d="M449.5 292.5 V288.5 M443.9 288.5 H455.1" stroke="#484848" stroke-width="1" fill="none"/>
<clipPath id="cE5"><rect x="437.5" y="292.5" width="24.0" height="61.0"/></clipPath>
<rect x="437.5" y="292.5" width="24.0" height="61.0" fill="#000000"/>
<path d="M437.5 265.4l24.0 21.6M437.5 272.25l24.0 21.6M437.5 279.1l24.0 21.6M437.5 285.95l24.0 21.6M437.5 292.8l24.0 21.6M437.5 299.65l24.0 21.6M437.5 306.5l24.0 21.6M437.5 313.35l24.0 21.6M437.5 320.2l24.0 21.6M437.5 327.05l24.0 21.6M437.5 333.9l24.0 21.6M437.5 340.75l24.0 21.6M437.5 347.6l24.0 21.6" stroke="#ffffff" stroke-width="0.78" fill="none" clip-path="url(#cE5)"/>
<path d="M437.5 353.5V292.5H461.5V353.5" fill="none" stroke="#8a8a8a" stroke-width="1"/>
<text transform="translate(453.7,367.7) rotate(-45)" font-size="12.2" font-weight="bold" text-anchor="end">After</text>
<g transform="translate(307.15,230.5)"><path d="M0,-2.5V2.5" stroke="#000" stroke-width="0.9" fill="none"/><path d="M-2.25,-1.3L2.25,1.3M-2.25,1.3L2.25,-1.3" stroke="#000" stroke-width="1.1" fill="none"/><circle r="0.8"/></g>
<g transform="translate(313.0,230.5)"><path d="M0,-2.5V2.5" stroke="#000" stroke-width="0.9" fill="none"/><path d="M-2.25,-1.3L2.25,1.3M-2.25,1.3L2.25,-1.3" stroke="#000" stroke-width="1.1" fill="none"/><circle r="0.8"/></g>
<g transform="translate(318.85,230.5)"><path d="M0,-2.5V2.5" stroke="#000" stroke-width="0.9" fill="none"/><path d="M-2.25,-1.3L2.25,1.3M-2.25,1.3L2.25,-1.3" stroke="#000" stroke-width="1.1" fill="none"/><circle r="0.8"/></g>
<g transform="translate(367.2,231.5)"><path d="M0,-2.5V2.5" stroke="#000" stroke-width="0.9" fill="none"/><path d="M-2.25,-1.3L2.25,1.3M-2.25,1.3L2.25,-1.3" stroke="#000" stroke-width="1.1" fill="none"/><circle r="0.8"/></g>
<g transform="translate(373.05,231.5)"><path d="M0,-2.5V2.5" stroke="#000" stroke-width="0.9" fill="none"/><path d="M-2.25,-1.3L2.25,1.3M-2.25,1.3L2.25,-1.3" stroke="#000" stroke-width="1.1" fill="none"/><circle r="0.8"/></g>
<g transform="translate(378.9,231.5)"><path d="M0,-2.5V2.5" stroke="#000" stroke-width="0.9" fill="none"/><path d="M-2.25,-1.3L2.25,1.3M-2.25,1.3L2.25,-1.3" stroke="#000" stroke-width="1.1" fill="none"/><circle r="0.8"/></g>
<g transform="translate(430.45,232.7)"><path d="M0,-2.5V2.5" stroke="#000" stroke-width="0.9" fill="none"/><path d="M-2.25,-1.3L2.25,1.3M-2.25,1.3L2.25,-1.3" stroke="#000" stroke-width="1.1" fill="none"/><circle r="0.8"/></g>
<g transform="translate(436.3,232.7)"><path d="M0,-2.5V2.5" stroke="#000" stroke-width="0.9" fill="none"/><path d="M-2.25,-1.3L2.25,1.3M-2.25,1.3L2.25,-1.3" stroke="#000" stroke-width="1.1" fill="none"/><circle r="0.8"/></g>
<g transform="translate(442.15,232.7)"><path d="M0,-2.5V2.5" stroke="#000" stroke-width="0.9" fill="none"/><path d="M-2.25,-1.3L2.25,1.3M-2.25,1.3L2.25,-1.3" stroke="#000" stroke-width="1.1" fill="none"/><circle r="0.8"/></g>
<line x1="276.0" y1="353.5" x2="480" y2="353.5" stroke="#484848" stroke-width="1"/>
<rect x="510.4" y="296.2" width="13.3" height="13.3" fill="#ffffff" stroke="#5a5a5a" stroke-width="0.85"/>
<clipPath id="lc0"><rect x="532.7" y="296.2" width="13.2" height="13.3"/></clipPath>
<rect x="532.7" y="296.2" width="13.2" height="13.3" fill="#ffffff"/>
<path d="M532.7 288.09 l13.2 8.71M532.7 290.49 l13.2 8.71M532.7 292.89 l13.2 8.71M532.7 295.29 l13.2 8.71M532.7 297.69 l13.2 8.71M532.7 300.09 l13.2 8.71M532.7 302.49 l13.2 8.71M532.7 304.89 l13.2 8.71M532.7 307.29 l13.2 8.71" stroke="#000000" stroke-width="1.0" fill="none" clip-path="url(#lc0)"/>
<rect x="532.7" y="296.2" width="13.2" height="13.3" fill="none" stroke="#333" stroke-width="0.7"/>
<rect x="510.4" y="318.5" width="13.3" height="13.3" fill="#a6a6a6" stroke="#5a5a5a" stroke-width="0.85"/>
<clipPath id="lc1"><rect x="532.7" y="318.5" width="13.2" height="13.3"/></clipPath>
<rect x="532.7" y="318.5" width="13.2" height="13.3" fill="#a6a6a6"/>
<path d="M532.7 310.39 l13.2 8.71M532.7 312.79 l13.2 8.71M532.7 315.19 l13.2 8.71M532.7 317.59 l13.2 8.71M532.7 319.99 l13.2 8.71M532.7 322.39 l13.2 8.71M532.7 324.79 l13.2 8.71M532.7 327.19 l13.2 8.71M532.7 329.59 l13.2 8.71" stroke="#000000" stroke-width="1.15" fill="none" clip-path="url(#lc1)"/>
<rect x="532.7" y="318.5" width="13.2" height="13.3" fill="none" stroke="#333" stroke-width="0.7"/>
<rect x="510.4" y="341.7" width="13.3" height="13.3" fill="#000000" stroke="#5a5a5a" stroke-width="0.85"/>
<clipPath id="lc2"><rect x="532.7" y="341.7" width="13.2" height="13.3"/></clipPath>
<rect x="532.7" y="341.7" width="13.2" height="13.3" fill="#000000"/>
<path d="M532.7 333.59 l13.2 8.71M532.7 335.99 l13.2 8.71M532.7 338.39 l13.2 8.71M532.7 340.79 l13.2 8.71M532.7 343.19 l13.2 8.71M532.7 345.59 l13.2 8.71M532.7 347.99 l13.2 8.71M532.7 350.39 l13.2 8.71M532.7 352.79 l13.2 8.71" stroke="#ffffff" stroke-width="0.7" fill="none" clip-path="url(#lc2)"/>
<rect x="532.7" y="341.7" width="13.2" height="13.3" fill="none" stroke="#333" stroke-width="0.7"/>
<text x="552" y="307.2" font-size="11.6" font-weight="bold" text-anchor="start" >WT</text>
<text x="551.8" y="329.6" font-size="11.6" font-weight="bold">Isl1<tspan font-size="6.9" dy="-4.6">+/CRE</tspan></text>
<text x="551.8" y="353" font-size="11.6" font-weight="bold">Isl1<tspan font-size="6.9" dy="-4.6">+/CRE</tspan><tspan dy="4.6">::Meis2</tspan><tspan font-size="6.9" dy="-4.6">-/-</tspan></text>
<text transform="translate(517.6,290.2) rotate(-45)" font-size="11.5" font-weight="bold">Before injection</text>
<text transform="translate(539.2,292.6) rotate(-45)" font-size="11.5" font-weight="bold">After injection</text>
</svg></body></html>
